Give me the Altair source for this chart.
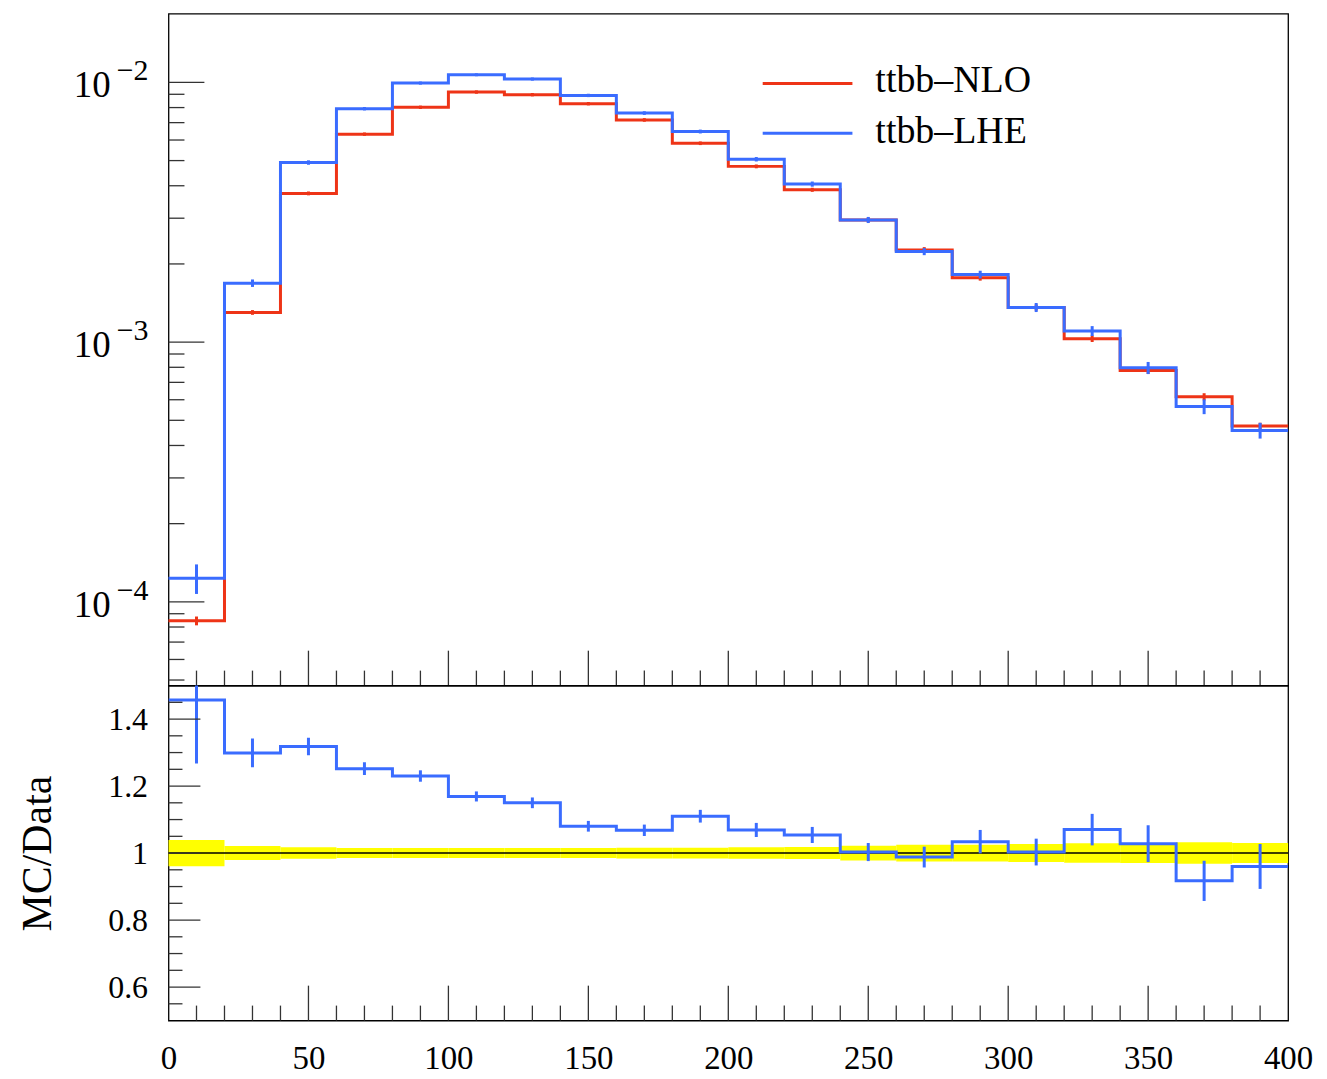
import altair as alt
import pandas as pd

# ---------------- data ----------------
bin_lo = [0, 20, 40, 60, 80, 100, 120, 140, 160, 180, 200, 220, 240, 260, 280, 300, 320, 340, 360, 380]
bin_hi = [20, 40, 60, 80, 100, 120, 140, 160, 180, 200, 220, 240, 260, 280, 300, 320, 340, 360, 380, 400]

nlo = [8.45e-5, 1.301e-3, 3.738e-3, 6.32e-3, 8.02e-3, 9.18e-3, 8.97e-3, 8.28e-3, 7.17e-3, 5.83e-3,
       4.75e-3, 3.86e-3, 2.954e-3, 2.265e-3, 1.769e-3, 1.360e-3, 1.031e-3, 7.77e-4, 6.16e-4, 4.75e-4]
lhe = [1.233e-4, 1.687e-3, 4.915e-3, 7.92e-3, 9.94e-3, 1.070e-2, 1.030e-2, 8.91e-3, 7.62e-3, 6.47e-3,
       5.06e-3, 4.06e-3, 2.954e-3, 2.232e-3, 1.821e-3, 1.360e-3, 1.104e-3, 7.96e-4, 5.65e-4, 4.57e-4]

ratio = [1.457, 1.299, 1.318, 1.252, 1.230, 1.169, 1.150, 1.080, 1.068, 1.110,
         1.069, 1.054, 1.003, 0.988, 1.034, 1.003, 1.070, 1.028, 0.917, 0.960]
ratio_err = [0.19, 0.043, 0.026, 0.019, 0.017, 0.015, 0.016, 0.016, 0.017, 0.019,
             0.021, 0.024, 0.027, 0.031, 0.035, 0.040, 0.047, 0.055, 0.060, 0.067]
band = [0.039, 0.021, 0.017, 0.015, 0.015, 0.015, 0.015, 0.015, 0.016, 0.016,
        0.017, 0.018, 0.022, 0.025, 0.025, 0.027, 0.029, 0.030, 0.032, 0.030]

series_names = ["ttbb\u2013NLO", "ttbb\u2013LHE"]
x_labels = [0, 50, 100, 150, 200, 250, 300, 350, 400]
top_decades = [1e-4, 1e-3, 1e-2]
top_exp = ["\u22124", "\u22123", "\u22122"]
ratio_labels = [0.6, 0.8, 1.0, 1.2, 1.4]

x_major = [50, 100, 150, 200, 250, 300, 350]
x_minor = [v for v in range(10, 400, 10) if v % 50 != 0]
top_minor = [k * 10.0 ** e for e in (-5, -4, -3) for k in range(2, 10) if 4.8e-5 < k * 10.0 ** e < 1.8e-2]
ratio_minor = [0.55, 0.65, 0.7, 0.75, 0.85, 0.9, 0.95, 1.05, 1.1, 1.15, 1.25, 1.3, 1.35, 1.45]

# ---------------- style ----------------
RED = "#ee3417"
BLUE = "#3a6cff"
YEL = "#ffff00"
TICK = "#333333"
FONT = "Liberation Serif"
W, H1, H2 = 1123, 674, 336

xs = alt.Scale(domain=[0, 400], nice=False, zero=False)
ys_top = alt.Scale(type="log", domain=[4.76e-5, 1.84e-2], nice=False)
ys_bot = alt.Scale(domain=[0.5, 1.5], nice=False, zero=False)

centers = [(a + b) / 2 for a, b in zip(bin_lo, bin_hi)]
steps = pd.DataFrame({"x": bin_lo + [bin_hi[-1]], "nlo": nlo + [nlo[-1]], "lhe": lhe + [lhe[-1]],
                      "r": ratio + [ratio[-1]]})
bins = pd.DataFrame({
    "c": centers, "lo": bin_lo, "hi": bin_hi,
    "nlo_lo": [v * (1 - b) for v, b in zip(nlo, band)],
    "nlo_hi": [v * (1 + b) for v, b in zip(nlo, band)],
    "lhe_lo": [v - e * n for v, e, n in zip(lhe, ratio_err, nlo)],
    "lhe_hi": [v + e * n for v, e, n in zip(lhe, ratio_err, nlo)],
    "r_lo": [r - e for r, e in zip(ratio, ratio_err)],
    "r_hi": [r + e for r, e in zip(ratio, ratio_err)],
    "b_lo": [1 - b for b in band],
    "b_hi": [1 + b for b in band],
})

xaxis = alt.Axis(values=x_labels, ticks=False, domain=False, grid=False, labelFont=FONT, labelFontSize=33,
                 labelColor="black", labelPadding=22, labelFlush=False, labelOverlap=False, title=None)
yaxis = alt.Axis(values=ratio_labels, format="~g", ticks=False, domain=False, grid=False, labelFont=FONT,
                 labelFontSize=32, labelColor="black", labelPadding=21, labelOverlap=False,
                 title="MC/Data", titleFont=FONT, titleFontSize=42, titleFontWeight="normal",
                 titleColor="black", titleX=-118, titleY=H2 / 2, titleAngle=270,
                 titleBaseline="alphabetic", titleAlign="center")

X = lambda f: alt.X(f, scale=xs, axis=None)
YT = lambda f: alt.Y(f, scale=ys_top, axis=None)
XB = lambda f: alt.X(f, scale=xs, axis=xaxis)
YB = lambda f: alt.Y(f, scale=ys_bot, axis=yaxis)

# ---------------- top panel ----------------
red_line = alt.Chart(steps).mark_line(interpolate="step-after", color=RED, strokeWidth=3).encode(
    x=X("x:Q"), y=YT("nlo:Q"))
red_err = alt.Chart(bins).mark_rule(color=RED, strokeWidth=3).encode(
    x=X("c:Q"), y=YT("nlo_lo:Q"), y2="nlo_hi:Q")
blue_line = alt.Chart(steps).mark_line(interpolate="step-after", color=BLUE, strokeWidth=3).encode(
    x=X("x:Q"), y=YT("lhe:Q"))
blue_err = alt.Chart(bins).mark_rule(color=BLUE, strokeWidth=3).encode(
    x=X("c:Q"), y=YT("lhe_lo:Q"), y2="lhe_hi:Q")

t_xmaj = alt.Chart(pd.DataFrame({"v": x_major})).mark_rule(color=TICK, strokeWidth=1.3).encode(
    x=X("v:Q"), y=alt.value(H1), y2=alt.value(H1 - 35))
t_xmin = alt.Chart(pd.DataFrame({"v": x_minor})).mark_rule(color=TICK, strokeWidth=1.3).encode(
    x=X("v:Q"), y=alt.value(H1), y2=alt.value(H1 - 15))
t_ymaj = alt.Chart(pd.DataFrame({"v": top_decades})).mark_rule(color=TICK, strokeWidth=1.3).encode(
    y=YT("v:Q"), x=alt.value(0), x2=alt.value(36))
t_ymin = alt.Chart(pd.DataFrame({"v": top_minor})).mark_rule(color=TICK, strokeWidth=1.3).encode(
    y=YT("v:Q"), x=alt.value(0), x2=alt.value(16))

lab_df = pd.DataFrame({"v": top_decades, "t": ["10"] * 3, "e": top_exp})
lab10 = alt.Chart(lab_df).mark_text(font=FONT, fontSize=37, align="right", baseline="middle", dy=4,
                                    color="black").encode(y=YT("v:Q"), x=alt.value(-58), text="t:N")
labexp = alt.Chart(lab_df).mark_text(font=FONT, fontSize=30, align="right", baseline="middle", dy=-11,
                                     color="black").encode(y=YT("v:Q"), x=alt.value(-20), text="e:N")

leg_df = pd.DataFrame({"name": series_names})
leg_red = alt.Chart(leg_df.iloc[[0]]).mark_rule(color=RED, strokeWidth=3).encode(
    x=alt.value(596), x2=alt.value(686), y=alt.value(70))
leg_blue = alt.Chart(leg_df.iloc[[1]]).mark_rule(color=BLUE, strokeWidth=3).encode(
    x=alt.value(596), x2=alt.value(686), y=alt.value(120))
leg_t1 = alt.Chart(leg_df.iloc[[0]]).mark_text(font=FONT, fontSize=38, align="left", baseline="alphabetic",
                                               color="black").encode(x=alt.value(709), y=alt.value(79), text="name:N")
leg_t2 = alt.Chart(leg_df.iloc[[1]]).mark_text(font=FONT, fontSize=38, align="left", baseline="alphabetic",
                                               color="black").encode(x=alt.value(709), y=alt.value(130), text="name:N")

top = alt.layer(red_line, red_err, blue_line, blue_err, t_xmaj, t_xmin, t_ymaj, t_ymin,
                lab10, labexp, leg_red, leg_blue, leg_t1, leg_t2).properties(width=W, height=H1)

# ---------------- bottom panel ----------------
band_rect = alt.Chart(bins).mark_rect(color=YEL).encode(
    x=XB("lo:Q"), x2="hi:Q", y=YB("b_lo:Q"), y2="b_hi:Q")
one_line = alt.Chart(pd.DataFrame({"y": [1.0]})).mark_rule(color="black", strokeWidth=1.5).encode(
    y=YB("y:Q"), x=alt.value(0), x2=alt.value(W))
r_line = alt.Chart(steps).mark_line(interpolate="step-after", color=BLUE, strokeWidth=3, clip=True).encode(
    x=XB("x:Q"), y=YB("r:Q"))
r_err = alt.Chart(bins).mark_rule(color=BLUE, strokeWidth=3, clip=True).encode(
    x=XB("c:Q"), y=YB("r_lo:Q"), y2="r_hi:Q")

b_xmaj = alt.Chart(pd.DataFrame({"v": x_major})).mark_rule(color=TICK, strokeWidth=1.3).encode(
    x=XB("v:Q"), y=alt.value(H2), y2=alt.value(H2 - 35))
b_xmin = alt.Chart(pd.DataFrame({"v": x_minor})).mark_rule(color=TICK, strokeWidth=1.3).encode(
    x=XB("v:Q"), y=alt.value(H2), y2=alt.value(H2 - 15))
b_ymaj = alt.Chart(pd.DataFrame({"v": ratio_labels})).mark_rule(color=TICK, strokeWidth=1.3).encode(
    y=YB("v:Q"), x=alt.value(0), x2=alt.value(32))
b_ymin = alt.Chart(pd.DataFrame({"v": ratio_minor})).mark_rule(color=TICK, strokeWidth=1.3).encode(
    y=YB("v:Q"), x=alt.value(0), x2=alt.value(14))

bottom = alt.layer(band_rect, one_line, r_line, r_err, b_xmaj, b_xmin, b_ymaj, b_ymin).properties(
    width=W, height=H2)

chart = alt.vconcat(top, bottom, spacing=0, bounds="flush").configure_view(
    stroke="black", strokeWidth=1.3).properties(
    padding={"left": 8, "top": 3, "right": 5, "bottom": 5})

chart.save("out.html", embed_options={"renderer": "svg", "actions": False})
